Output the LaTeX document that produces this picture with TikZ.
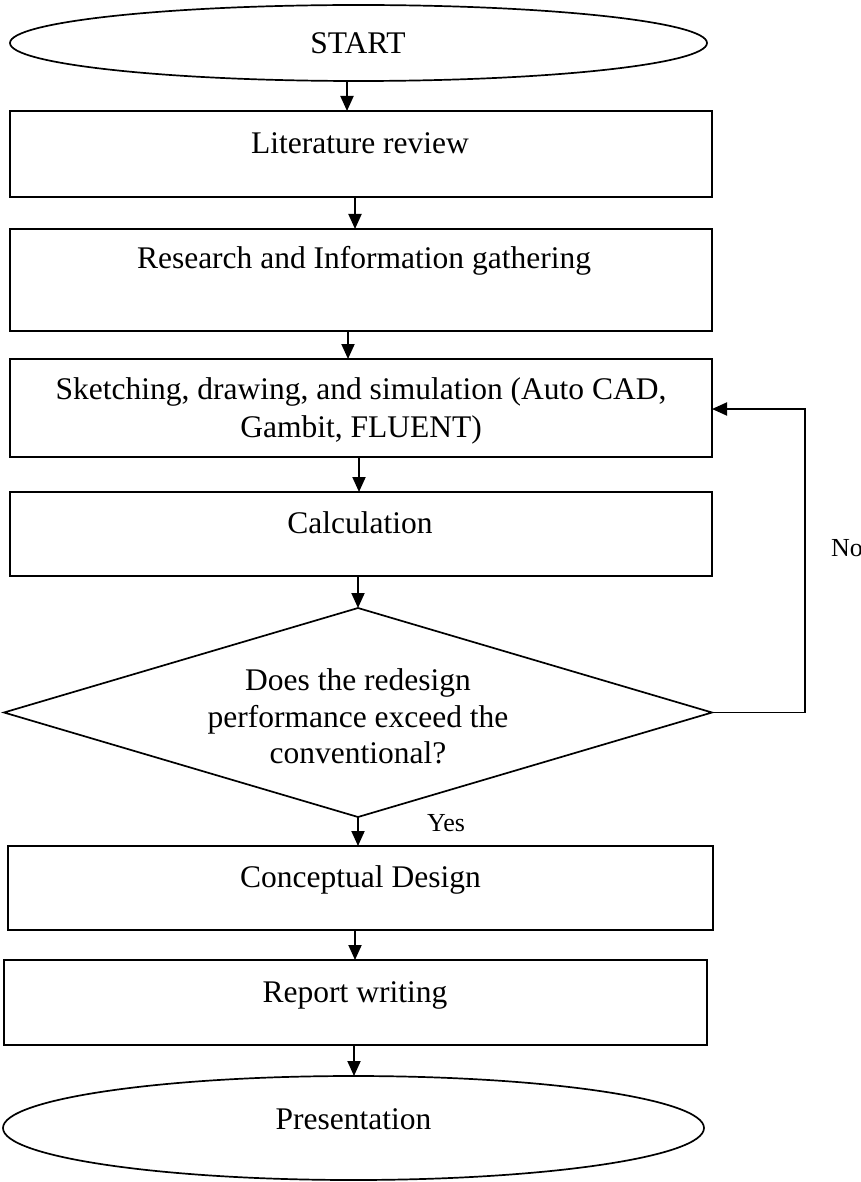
\documentclass[tikz,border=0pt]{standalone}
\usepackage{fontspec}
\setmainfont{Liberation Serif}
\usetikzlibrary{arrows.meta,shapes.geometric}
\begin{document}
\begin{tikzpicture}[x=1pt,y=-1pt,
  every node/.style={font=\fontsize{31.5}{36.5}\selectfont},
  box/.style={draw, line width=1.7pt, rectangle, inner sep=0pt, outer sep=0pt},
  term/.style={draw, line width=1.7pt, ellipse, inner sep=0pt, outer sep=0pt},
  decide/.style={draw, line width=1.7pt, diamond, inner sep=0pt, outer sep=0pt},
  txt/.style={anchor=base, inner sep=0pt},
  flow/.style={-{Triangle[width=13pt,length=15pt]}, line width=1.9pt},
  small/.style={font=\fontsize{26}{30}\selectfont, anchor=base west, inner sep=0pt}]
\useasboundingbox (0,0) rectangle (861,1182);

% shapes
\node[term, minimum width=697, minimum height=76] (start) at (358.5,43) {};
\node[box, minimum width=702, minimum height=86] (lit) at (361,154) {};
\node[box, minimum width=702, minimum height=102] (res) at (361,280) {};
\node[box, minimum width=702, minimum height=98] (sk) at (361,408) {};
\node[box, minimum width=702, minimum height=84] (calc) at (361,534) {};
\node[decide, minimum width=708, minimum height=209] (dec) at (358,712.5) {};
\node[box, minimum width=705, minimum height=84] (con) at (360.5,888) {};
\node[box, minimum width=703, minimum height=85] (rep) at (355.5,1002.5) {};
\node[term, minimum width=701, minimum height=104] (pres) at (353.5,1128) {};

% texts
\node[txt] (tstart) at (358,54) {START};
\node[txt] (tlit) at (360,154) {Literature review};
\node[txt] (tres) at (364,269) {Research and Information gathering};
\node[txt] (tsk1) at (361,399) {Sketching, drawing, and simulation (Auto CAD,};
\node[txt] (tsk2) at (361,437) {Gambit, FLUENT)};
\node[txt] (tcalc) at (360,533) {Calculation};
\node[txt] (tdec1) at (358,690) {Does the redesign};
\node[txt] (tdec2) at (358,727) {performance exceed the};
\node[txt] (tdec3) at (358,763) {conventional?};
\node[txt] (tcon) at (360.5,887) {Conceptual Design};
\node[txt] (trep) at (355,1002) {Report writing};
\node[txt] (tpres) at (353.5,1129) {Presentation};

\node[small] (yes) at (427,831) {Yes};
\node[small] (no) at (831,556) {No};

% connectors
\draw[flow] (347,0 |- start.south) -- (347,0 |- lit.north);
\draw[flow] (355,0 |- lit.south) -- (355,0 |- res.north);
\draw[flow] (348,0 |- res.south) -- (348,0 |- sk.north);
\draw[flow] (359,0 |- sk.south) -- (359,0 |- calc.north);
\draw[flow] (dec.north |- calc.south) -- (dec.north);
\draw[flow] (dec.south) -- (dec.south |- con.north);
\draw[flow] (355,0 |- con.south) -- (355,0 |- rep.north);
\draw[flow] (354,0 |- rep.south) -- (354,0 |- pres.north);

\coordinate (loopc) at (805,409);
\draw[flow] (dec.east) -| (loopc) -- (sk.east |- loopc);
\end{tikzpicture}
\end{document}
